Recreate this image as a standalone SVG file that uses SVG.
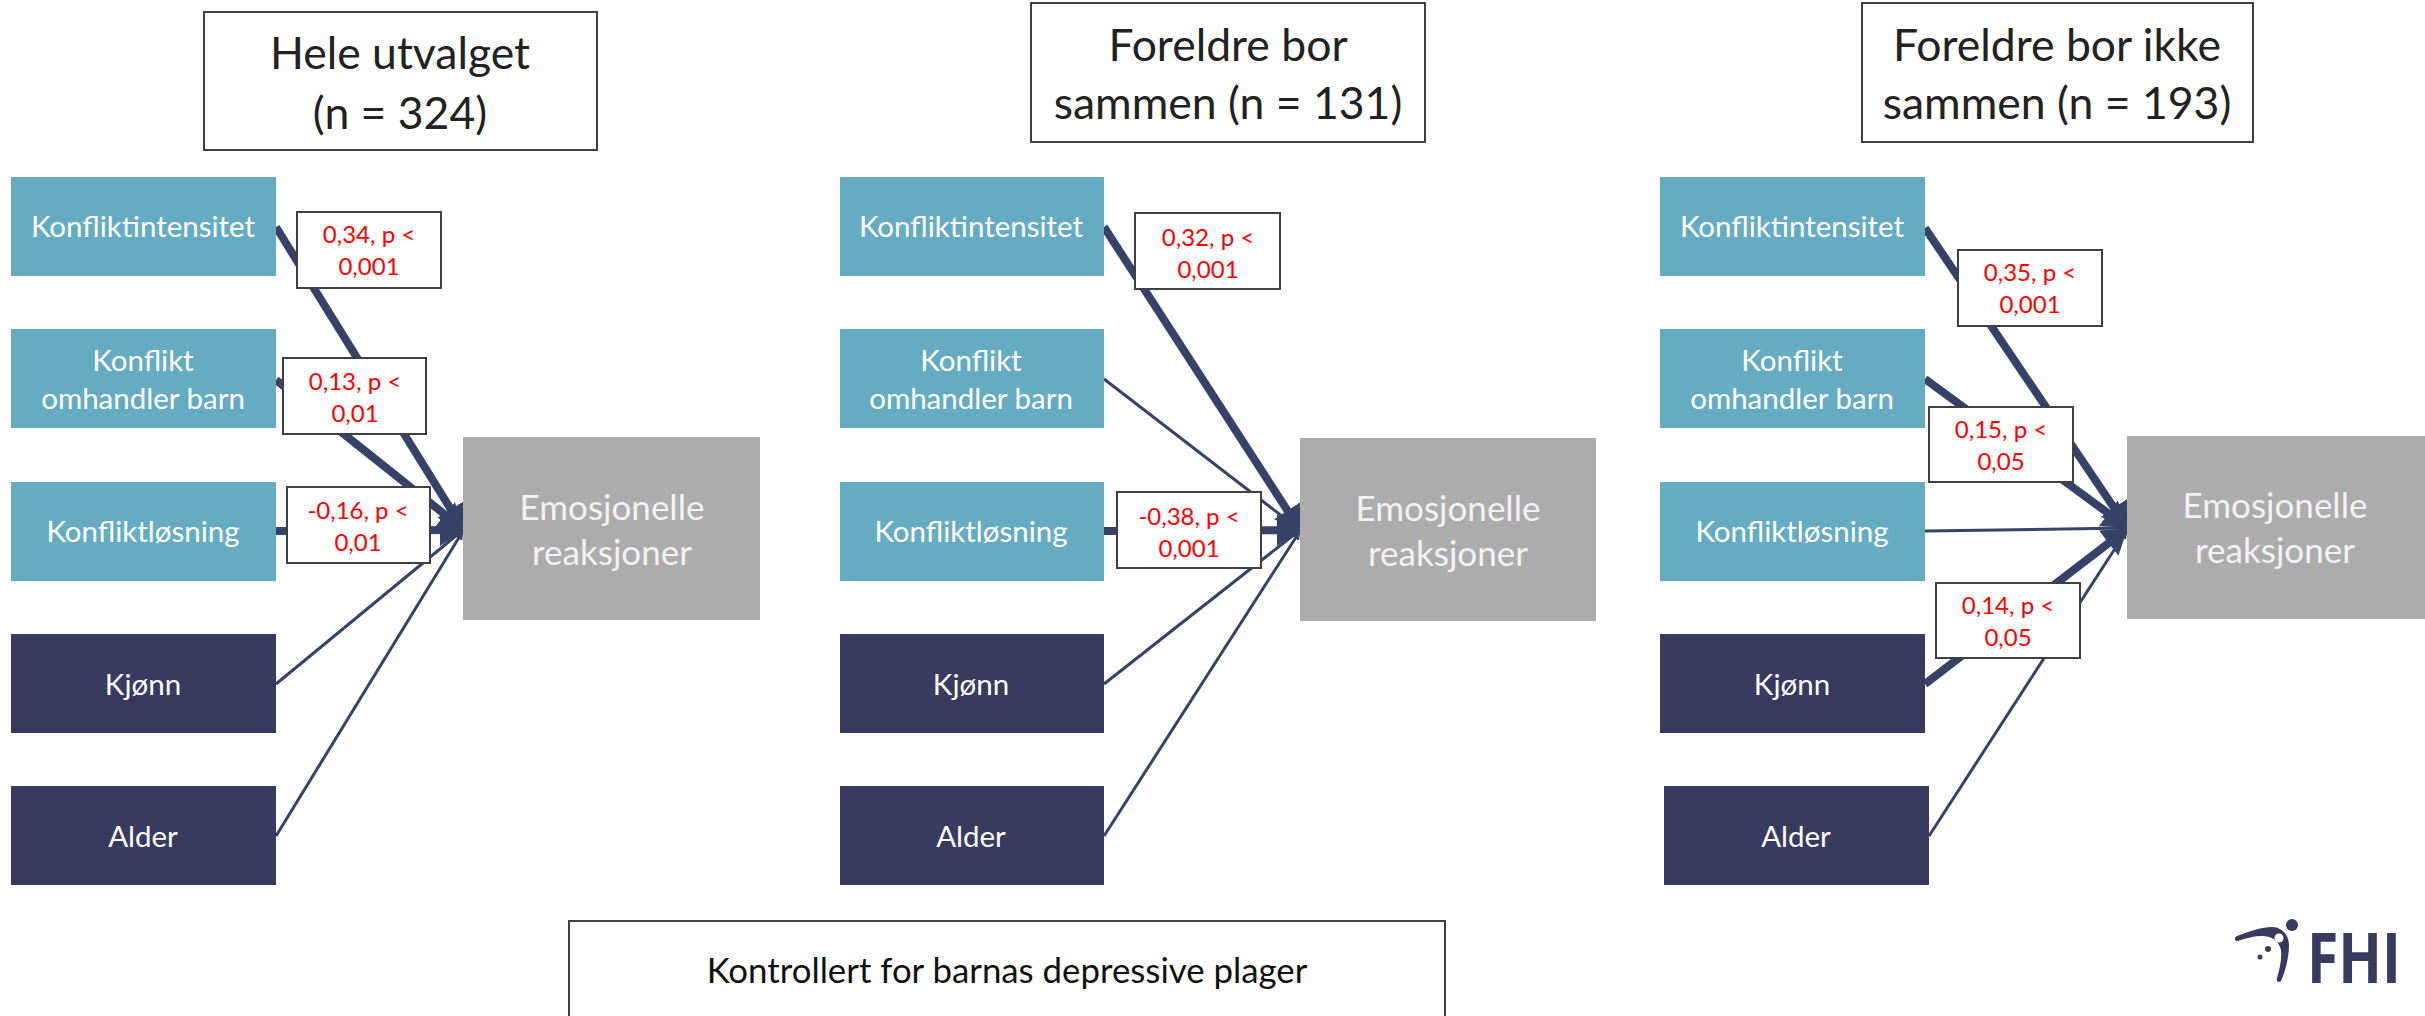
<svg xmlns="http://www.w3.org/2000/svg" width="2425" height="1016" viewBox="0 0 2425 1016">
<style>
text{font-family:Lato,Carlito,"Open Sans",sans-serif;text-anchor:middle}
.teal{fill:#65acc3}.navy{fill:#383a60}.gray{fill:#acacac}
.box{fill:#fff;stroke:#404040;stroke-width:2}
.n{fill:#fff;font-size:29.5px}.e{fill:#f2f2f2;font-size:35px}
.t{fill:#222;font-size:44.5px}.r{fill:#f00;font-size:24px}.b{fill:#111;font-size:34.8px}
.th{stroke:#374268;stroke-width:8;fill:none;marker-end:url(#a)}
.tn{stroke:#374268;stroke-width:3;fill:none;marker-end:url(#b)}
.logo{fill:#383a60}
</style>
<defs>
<marker id="a" markerUnits="strokeWidth" viewBox="0 0 3 4" refX="2.9" refY="2" markerWidth="3" markerHeight="4" orient="auto"><path d="M0 0L3 2L0 4z" fill="#374268"/></marker>
<marker id="b" markerUnits="strokeWidth" viewBox="0 0 3 3" refX="2.9" refY="1.5" markerWidth="3" markerHeight="3" orient="auto"><path d="M0 0L3 1.5L0 3z" fill="#374268"/></marker>
</defs>
<rect width="2425" height="1016" fill="#fff"/>
<g id="connectors">
<path class="th" d="M276 227L463 529"/><path class="th" d="M276 380L463 529"/><path class="th" d="M276 531L463 530"/><path class="tn" d="M276 684L463 530"/><path class="tn" d="M276 836L463 531"/>
<path class="th" d="M1104 227L1300 530"/><path class="tn" d="M1104 379L1300 530"/><path class="th" d="M1104 531L1300 530"/><path class="tn" d="M1104 684L1300 530"/><path class="tn" d="M1104 836L1300 531"/>
<path class="th" d="M1925 228L2127 527"/><path class="th" d="M1925 379L2127 527"/><path class="tn" d="M1925 531L2127 528"/><path class="th" d="M1925 684L2127 529"/><path class="tn" d="M1929 836L2127 530"/>
</g>
<g id="title1"><rect class="box" x="204" y="12" width="393" height="138"/><text class="t" x="400" y="69">Hele utvalget</text><text class="t" x="400" y="129">(n = 324)</text></g>
<g id="title2"><rect class="box" x="1031" y="3" width="394" height="139"/><text class="t" x="1228" y="61">Foreldre bor</text><text class="t" x="1228" y="119">sammen (n = 131)</text></g>
<g id="title3"><rect class="box" x="1862" y="3" width="391" height="139"/><text class="t" x="2057" y="61">Foreldre bor ikke</text><text class="t" x="2057" y="119">sammen (n = 193)</text></g>

<g id="p1-konfliktintensitet"><rect class="teal" x="11" y="177" width="265" height="99"/><text class="n" x="143" y="237">Konfliktintensitet</text></g>
<g id="p1-omhandler"><rect class="teal" x="11" y="329" width="265" height="99"/><text class="n" x="143" y="371">Konflikt</text><text class="n" x="143" y="409">omhandler barn</text></g>
<g id="p1-losning"><rect class="teal" x="11" y="482" width="265" height="99"/><text class="n" x="143" y="542">Konfliktløsning</text></g>
<g id="p1-kjonn"><rect class="navy" x="11" y="634" width="265" height="99"/><text class="n" x="143" y="695">Kjønn</text></g>
<g id="p1-alder"><rect class="navy" x="11" y="786" width="265" height="99"/><text class="n" x="143" y="847">Alder</text></g>
<g id="p1-emo"><rect class="gray" x="463" y="437" width="297" height="183"/><text class="e" x="612" y="520">Emosjonelle</text><text class="e" x="612" y="565">reaksjoner</text></g>
<g id="p1-l1"><rect class="box" x="297" y="212" width="144" height="76"/><text class="r" x="369" y="243">0,34, p &lt;</text><text class="r" x="369" y="275">0,001</text></g>
<g id="p1-l2"><rect class="box" x="283" y="358" width="143" height="76"/><text class="r" x="355" y="390">0,13, p &lt;</text><text class="r" x="355" y="422">0,01</text></g>
<g id="p1-l3"><rect class="box" x="287" y="487" width="143" height="76"/><text class="r" x="358" y="519">-0,16, p &lt;</text><text class="r" x="358" y="551">0,01</text></g>

<g id="p2-konfliktintensitet"><rect class="teal" x="840" y="177" width="264" height="99"/><text class="n" x="971" y="237">Konfliktintensitet</text></g>
<g id="p2-omhandler"><rect class="teal" x="840" y="329" width="264" height="99"/><text class="n" x="971" y="371">Konflikt</text><text class="n" x="971" y="409">omhandler barn</text></g>
<g id="p2-losning"><rect class="teal" x="840" y="482" width="264" height="99"/><text class="n" x="971" y="542">Konfliktløsning</text></g>
<g id="p2-kjonn"><rect class="navy" x="840" y="634" width="264" height="99"/><text class="n" x="971" y="695">Kjønn</text></g>
<g id="p2-alder"><rect class="navy" x="840" y="786" width="264" height="99"/><text class="n" x="971" y="847">Alder</text></g>
<g id="p2-emo"><rect class="gray" x="1300" y="438" width="296" height="183"/><text class="e" x="1448" y="521">Emosjonelle</text><text class="e" x="1448" y="566">reaksjoner</text></g>
<g id="p2-l1"><rect class="box" x="1135" y="213" width="145" height="76"/><text class="r" x="1208" y="246">0,32, p &lt;</text><text class="r" x="1208" y="278">0,001</text></g>
<g id="p2-l2"><rect class="box" x="1117" y="492" width="144" height="76"/><text class="r" x="1189" y="525">-0,38, p &lt;</text><text class="r" x="1189" y="557">0,001</text></g>

<g id="p3-konfliktintensitet"><rect class="teal" x="1660" y="177" width="265" height="99"/><text class="n" x="1792" y="237">Konfliktintensitet</text></g>
<g id="p3-omhandler"><rect class="teal" x="1660" y="329" width="265" height="99"/><text class="n" x="1792" y="371">Konflikt</text><text class="n" x="1792" y="409">omhandler barn</text></g>
<g id="p3-losning"><rect class="teal" x="1660" y="482" width="265" height="99"/><text class="n" x="1792" y="542">Konfliktløsning</text></g>
<g id="p3-kjonn"><rect class="navy" x="1660" y="634" width="265" height="99"/><text class="n" x="1792" y="695">Kjønn</text></g>
<g id="p3-alder"><rect class="navy" x="1664" y="786" width="265" height="99"/><text class="n" x="1796" y="847">Alder</text></g>
<g id="p3-emo"><rect class="gray" x="2127" y="436" width="298" height="183"/><text class="e" x="2275" y="518">Emosjonelle</text><text class="e" x="2275" y="563">reaksjoner</text></g>
<g id="p3-l1"><rect class="box" x="1958" y="250" width="144" height="76"/><text class="r" x="2030" y="281">0,35, p &lt;</text><text class="r" x="2030" y="313">0,001</text></g>
<g id="p3-l2"><rect class="box" x="1929" y="407" width="144" height="75"/><text class="r" x="2001" y="438">0,15, p &lt;</text><text class="r" x="2001" y="470">0,05</text></g>
<g id="p3-l3"><rect class="box" x="1936" y="583" width="144" height="75"/><text class="r" x="2008" y="614">0,14, p &lt;</text><text class="r" x="2008" y="646">0,05</text></g>

<g id="note"><rect class="box" x="569" y="921" width="876" height="110"/><text class="b" x="1007" y="983">Kontrollert for barnas depressive plager</text></g>
<g id="logo" class="logo">
<path d="M2237 936C2250 931 2262 927 2272 927C2282 927 2289 935 2289 945C2289 958 2285 972 2281 981C2279 983 2276 982 2277 978C2280 968 2282 958 2281 950C2279 941 2272 936 2262 936C2254 936 2246 938 2238 941C2234 941 2234 937 2237 936Z"/>
<circle cx="2279" cy="938" r="4.5" fill="#fff"/><circle cx="2292" cy="925" r="6"/><circle cx="2268" cy="949" r="3"/><circle cx="2260" cy="957" r="2.5"/>
<text x="2354" y="983" textLength="94" lengthAdjust="spacingAndGlyphs" style="font-family:'Open Sans',sans-serif;font-weight:700;font-size:70px;fill:#383a60">FHI</text>
</g>
</svg>
